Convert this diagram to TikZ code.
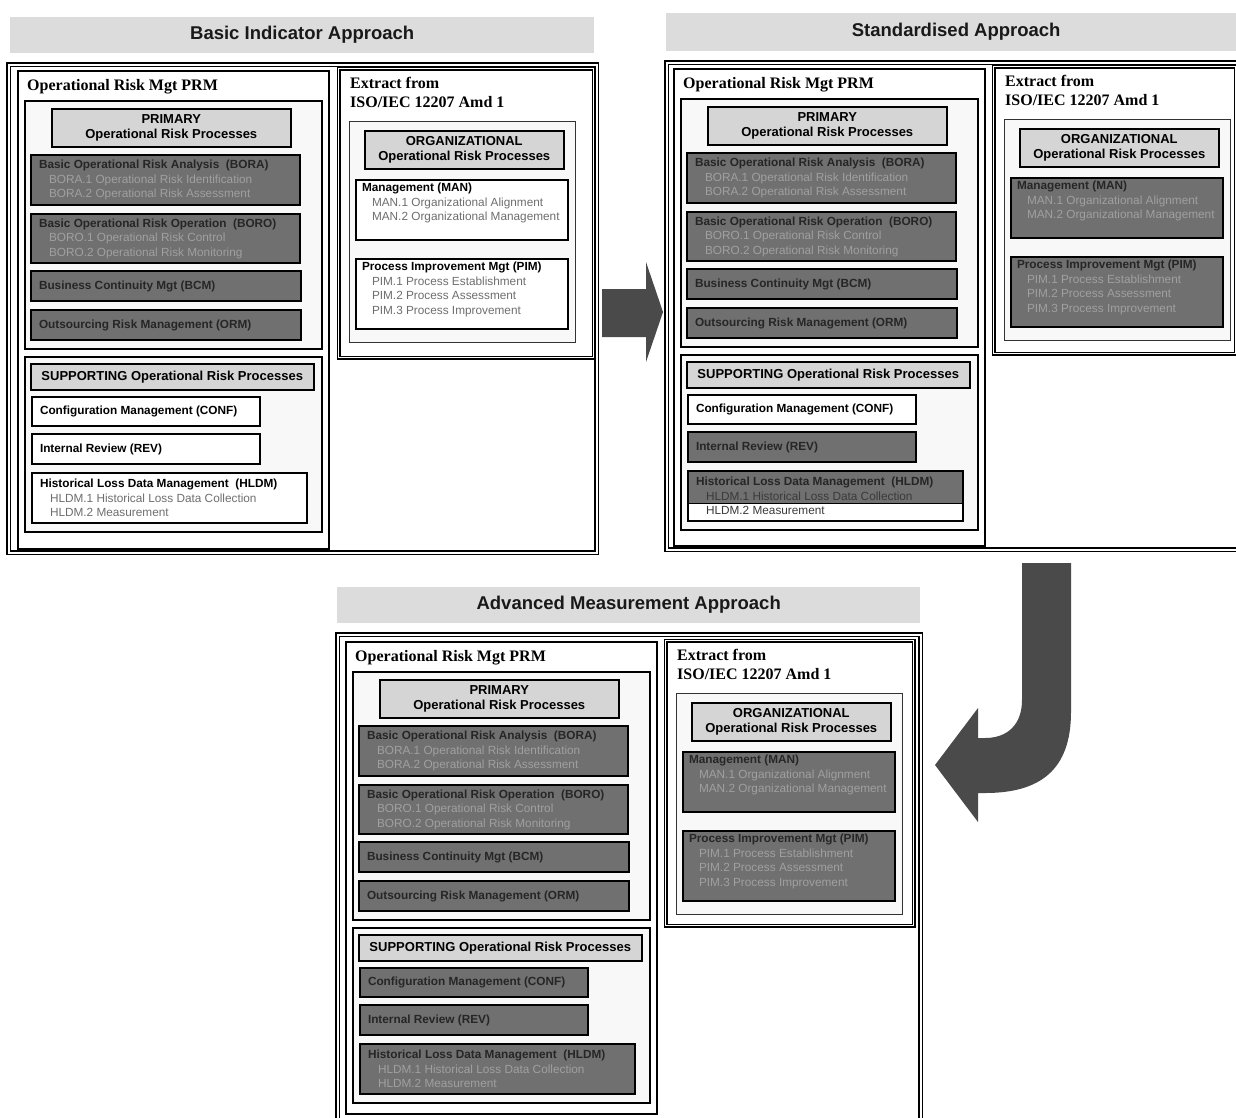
\documentclass[tikz,border=0pt]{standalone}
\usepackage{fontspec}
\setmainfont{Liberation Serif}
\newfontfamily\arialf{Liberation Sans}
\usetikzlibrary{calc}

\definecolor{barfill}{HTML}{DCDCDC}
\definecolor{headfill}{HTML}{D5D5D5}
\definecolor{darkfill}{HTML}{707070}
\definecolor{hddark}{HTML}{262626}
\definecolor{subdark}{HTML}{A0A0A0}
\definecolor{subwhite}{HTML}{6E6E6E}
\definecolor{subsplit}{HTML}{3A3A3A}
\definecolor{arrowfill}{HTML}{4A4A4A}
\definecolor{groupfill}{HTML}{F8F8F8}
\colorlet{subc}{subdark}

\newcommand\boxfont{\arialf\bfseries\fontsize{11.8}{14.5}\selectfont}
\newcommand\headfont{\arialf\bfseries\fontsize{13}{15}\selectfont}
\newcommand\barfont{\arialf\bfseries\fontsize{18.5}{22}\selectfont}
\newcommand\serifhead{\bfseries\fontsize{16}{19}\selectfont}

% one heading line and one indented sub-process line inside a process box
\newcommand\hdl[1]{\mbox{#1}}
\newcommand\sline[1]{\par\hspace*{10pt}\mbox{\mdseries\color{subc}#1}}

% process box, text block vertically centred
\newcommand\pbox[7]{%
  \node[#2, anchor=north west, inner sep=0pt, outer sep=0pt,
        minimum width=#5pt, minimum height=#6pt] (#1) at (#3,#4)
       {\parbox[c][#6pt][c]{#5pt}{\leftskip=8pt\relax #7}};}
% process box, text block at the top
\newcommand\pboxtop[7]{%
  \node[#2, anchor=north west, inner sep=0pt, outer sep=0pt,
        minimum width=#5pt, minimum height=#6pt] (#1) at (#3,#4)
       {\parbox[c][#6pt][t]{#5pt}{\vspace*{3pt}\leftskip=6pt\relax #7}};}

\tikzset{
  titlebar/.style={anchor=north west, fill=barfill, inner sep=0pt, font=\barfont, text=black!90},
  outerframe/.style={anchor=north west, draw=black, line width=1.4pt, double=white,
                     double distance=1.8pt, fill=white, inner sep=0pt},
  isoframe/.style={anchor=north west, draw=black, line width=1.2pt, double=white,
                   double distance=1.6pt, fill=white, inner sep=0pt},
  subframe/.style={anchor=north west, draw=black, line width=2pt, fill=white, inner sep=0pt},
  groupbox/.style={anchor=north west, draw=black, line width=1.8pt, fill=groupfill, inner sep=0pt},
  isogroup/.style={anchor=north west, draw=black!80, line width=1.4pt, fill=groupfill, inner sep=0pt},
  headbox/.style={anchor=north west, draw=black, line width=1.5pt, fill=headfill,
                  align=center, font=\headfont, inner sep=0pt},
  seriftitle/.style={anchor=north west, inner sep=0pt, font=\serifhead, align=left},
  darkbox/.style={draw=black, line width=1.5pt, fill=darkfill, text=hddark, font=\boxfont,
                  execute at begin node={\colorlet{subc}{subdark}}},
  whitebox/.style={draw=black, line width=1.5pt, fill=white, text=black, font=\boxfont,
                   execute at begin node={\colorlet{subc}{subwhite}}},
  splitbox/.style={darkbox, execute at begin node={\colorlet{subc}{subsplit}},
    path picture={
      \fill[white] (path picture bounding box.south west)
        rectangle ([yshift=18pt]path picture bounding box.south east);
      \draw[black, line width=1pt] ([yshift=18pt]path picture bounding box.south west)
        -- ([yshift=18pt]path picture bounding box.south east);}},
  blockarrow/.style={fill=arrowfill}
}

% Operational Risk Mgt PRM panel
% #1 prefix, #2 x, #3 y, #4 height, #5 CONF style, #6 REV style, #7 HLDM style
\newcommand\prmpanel[7]{%
 \begin{scope}[shift={(#2,#3)}]
  \node[subframe, minimum width=311pt, minimum height=#4pt] (#1-prm) at (0,0) {};
  \node[seriftitle] (#1-prm-title) at (10,9) {Operational Risk Mgt PRM};
  \node[groupbox, minimum width=297pt, minimum height=248pt] (#1-primary) at (7,30) {};
  \node[headbox, minimum width=239pt, minimum height=38pt] (#1-primary-head) at (34,38)
       {PRIMARY\\Operational Risk Processes};
  \pbox{#1-bora}{darkbox}{14}{85}{269}{50}{\hdl{Basic Operational Risk Analysis\ \ (BORA)}%
     \sline{BORA.1 Operational Risk Identification}\sline{BORA.2 Operational Risk Assessment}}
  \pbox{#1-boro}{darkbox}{14}{144}{269}{49}{\hdl{Basic Operational Risk Operation\ \ (BORO)}%
     \sline{BORO.1 Operational Risk Control}\sline{BORO.2 Operational Risk Monitoring}}
  \pbox{#1-bcm}{darkbox}{14}{201}{270}{30}{\hdl{Business Continuity Mgt (BCM)}}
  \pbox{#1-orm}{darkbox}{14}{240}{270}{30}{\hdl{Outsourcing Risk Management (ORM)}}
  \node[groupbox, minimum width=297pt, minimum height=175pt] (#1-supporting) at (7,286) {};
  \node[headbox, minimum width=283pt, minimum height=26pt] (#1-supporting-head) at (13,293)
       {SUPPORTING Operational Risk Processes};
  \pbox{#1-conf}{#5}{15}{327}{228}{29}{\hdl{Configuration Management (CONF)}}
  \pbox{#1-rev}{#6}{15}{364}{228}{30}{\hdl{Internal Review (REV)}}
  \pbox{#1-hldm}{#7}{15}{403}{275}{50}{\hdl{Historical Loss Data Management\ \ (HLDM)}%
     \sline{HLDM.1 Historical Loss Data Collection}\sline{HLDM.2 Measurement}}
 \end{scope}}

% Extract from ISO/IEC 12207 Amd 1 panel
% #1 prefix, #2 x, #3 y, #4 width, #5 height, #6 style of MAN and PIM
\newcommand\isopanel[6]{%
 \begin{scope}[shift={(#2,#3)}]
  \node[isoframe, minimum width=#4pt, minimum height=#5pt] (#1-iso) at (0,0) {};
  \node[seriftitle] (#1-iso-title) at (12,9) {Extract from\\ISO/IEC 12207 Amd 1};
  \node[isogroup, minimum width=226pt, minimum height=221pt] (#1-org) at (11,53) {};
  \node[headbox, minimum width=199pt, minimum height=38pt] (#1-org-head) at (26,62)
       {ORGANIZATIONAL\\Operational Risk Processes};
  \pboxtop{#1-man}{#6}{18}{112}{212}{60}{\hdl{Management (MAN)}%
     \sline{MAN.1 Organizational Alignment}\sline{MAN.2 Organizational Management}}
  \pboxtop{#1-pim}{#6}{18}{191}{212}{70}{\hdl{Process Improvement Mgt (PIM)}%
     \sline{PIM.1 Process Establishment}\sline{PIM.2 Process Assessment}%
     \sline{PIM.3 Process Improvement}}
 \end{scope}}

\begin{document}
\begin{tikzpicture}[x=1pt, y=-1pt]
  \useasboundingbox (0,0) rectangle (1236,1117);
  \clip (0,0) rectangle (1236,1117);
  \fill[white] (0,0) rectangle (1236,1117);

  % ---- Basic Indicator Approach ----
  \node[titlebar, minimum width=584pt, minimum height=36pt] (bia-title) at (10,17)
       {Basic Indicator Approach};
  \node[outerframe, minimum width=588pt, minimum height=488pt] (bia-frame) at (8,64) {};
  \prmpanel{bia}{17}{70}{478}{whitebox}{whitebox}{whitebox}
  \isopanel{bia}{338}{68}{255}{289}{whitebox}

  % ---- Standardised Approach ----
  \node[titlebar, minimum width=580pt, minimum height=38pt] (sa-title) at (666,13)
       {Standardised Approach};
  \node[outerframe, minimum width=600pt, minimum height=487pt] (sa-frame) at (666,62) {};
  \prmpanel{sa}{673}{68}{477}{whitebox}{darkbox}{splitbox}
  \isopanel{sa}{993}{66}{242}{287}{darkbox}

  % ---- Advanced Measurement Approach ----
  \node[titlebar, minimum width=583pt, minimum height=36pt] (ama-title) at (337,587)
       {Advanced Measurement Approach};
  \node[outerframe, minimum width=583pt, minimum height=500pt] (ama-frame) at (337,634) {};
  \prmpanel{ama}{345}{641}{472}{darkbox}{darkbox}{darkbox}
  \isopanel{ama}{665}{640}{248}{285}{darkbox}

  % ---- progression arrows ----
  \fill[blockarrow] (602,289) -- (646,289) -- (646,262) -- (663,312) -- (646,362)
        -- (646,337) -- (602,337) -- cycle;
  \fill[blockarrow] (1022,563) -- (1071,563) -- (1071,712)
        .. controls (1071,770) and (1040,793) .. (985,793) -- (978,793)
        -- (978,822) -- (935,765) -- (978,708) -- (978,738) -- (985,738)
        .. controls (1008,738) and (1022,724) .. (1022,700) -- cycle;
\end{tikzpicture}
\end{document}
